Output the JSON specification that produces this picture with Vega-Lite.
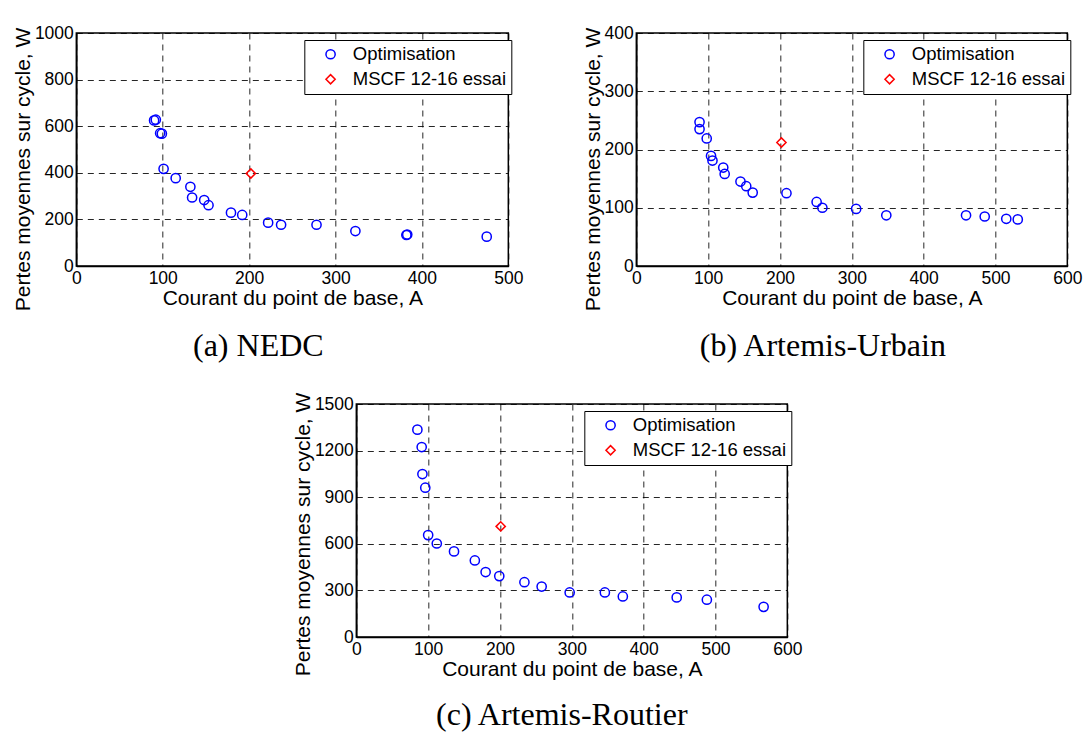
{
  "$schema": "https://vega.github.io/schema/vega-lite/v6.json",
  "padding": {"left": 11, "top": 23, "right": 2, "bottom": 0},
  "autosize": {"type": "pad"},
  "background": "white",
  "config": {
    "font": "Liberation Sans",
    "view": {"stroke": "#000", "strokeWidth": 1.5},
    "axis": {
      "labelFont": "Liberation Sans", "labelFontSize": 17.5, "labelColor": "#000",
      "titleFont": "Liberation Sans", "titleFontSize": 21, "titleFontWeight": "normal", "titleColor": "#000",
      "grid": true, "gridColor": "#000", "gridDash": [6, 5], "gridWidth": 1, "gridOpacity": 0.85,
      "domainColor": "#000", "domainWidth": 1.5, "ticks": false, "labelPadding": 3,
      "labelFlush": false, "labelOverlap": false, "titlePadding": 1, "format": "d"
    },
    "legend": {
      "strokeColor": "#000", "fillColor": "#fff", "padding": 5,
      "labelFont": "Liberation Sans", "labelFontSize": 18.5, "labelColor": "#000",
      "symbolSize": 85, "symbolStrokeWidth": 1.5, "rowPadding": 6, "labelOffset": 13, "symbolOffset": 12
    },
    "title": {"font": "Liberation Serif", "fontSize": 32, "fontWeight": "normal", "color": "#000", "orient": "bottom", "offset": 20}
  },
  "datasets": {
    "nedc": [
      {"courant": 90, "pertes": 625, "serie": "Optimisation"},
      {"courant": 92, "pertes": 628, "serie": "Optimisation"},
      {"courant": 97, "pertes": 570, "serie": "Optimisation"},
      {"courant": 99, "pertes": 568, "serie": "Optimisation"},
      {"courant": 101, "pertes": 417, "serie": "Optimisation"},
      {"courant": 115, "pertes": 377, "serie": "Optimisation"},
      {"courant": 132, "pertes": 340, "serie": "Optimisation"},
      {"courant": 134, "pertes": 294, "serie": "Optimisation"},
      {"courant": 148, "pertes": 283, "serie": "Optimisation"},
      {"courant": 153, "pertes": 261, "serie": "Optimisation"},
      {"courant": 179, "pertes": 229, "serie": "Optimisation"},
      {"courant": 192, "pertes": 219, "serie": "Optimisation"},
      {"courant": 222, "pertes": 186, "serie": "Optimisation"},
      {"courant": 237, "pertes": 177, "serie": "Optimisation"},
      {"courant": 278, "pertes": 177, "serie": "Optimisation"},
      {"courant": 323, "pertes": 150, "serie": "Optimisation"},
      {"courant": 382, "pertes": 133, "serie": "Optimisation"},
      {"courant": 383, "pertes": 135, "serie": "Optimisation"},
      {"courant": 475, "pertes": 126, "serie": "Optimisation"},
      {"courant": 202, "pertes": 397, "serie": "MSCF 12-16 essai"}
    ],
    "urbain": [
      {"courant": 88, "pertes": 247, "serie": "Optimisation"},
      {"courant": 88, "pertes": 235, "serie": "Optimisation"},
      {"courant": 98, "pertes": 219, "serie": "Optimisation"},
      {"courant": 104, "pertes": 189, "serie": "Optimisation"},
      {"courant": 106, "pertes": 181, "serie": "Optimisation"},
      {"courant": 121, "pertes": 169, "serie": "Optimisation"},
      {"courant": 123, "pertes": 158, "serie": "Optimisation"},
      {"courant": 145, "pertes": 145, "serie": "Optimisation"},
      {"courant": 153, "pertes": 137, "serie": "Optimisation"},
      {"courant": 162, "pertes": 126, "serie": "Optimisation"},
      {"courant": 209, "pertes": 125, "serie": "Optimisation"},
      {"courant": 251, "pertes": 110, "serie": "Optimisation"},
      {"courant": 259, "pertes": 100, "serie": "Optimisation"},
      {"courant": 306, "pertes": 98, "serie": "Optimisation"},
      {"courant": 348, "pertes": 87, "serie": "Optimisation"},
      {"courant": 459, "pertes": 87, "serie": "Optimisation"},
      {"courant": 485, "pertes": 85, "serie": "Optimisation"},
      {"courant": 515, "pertes": 81, "serie": "Optimisation"},
      {"courant": 531, "pertes": 80, "serie": "Optimisation"},
      {"courant": 202, "pertes": 212, "serie": "MSCF 12-16 essai"}
    ],
    "routier": [
      {"courant": 85, "pertes": 1335, "serie": "Optimisation"},
      {"courant": 91, "pertes": 1223, "serie": "Optimisation"},
      {"courant": 92, "pertes": 1049, "serie": "Optimisation"},
      {"courant": 96, "pertes": 961, "serie": "Optimisation"},
      {"courant": 100, "pertes": 656, "serie": "Optimisation"},
      {"courant": 112, "pertes": 602, "serie": "Optimisation"},
      {"courant": 136, "pertes": 551, "serie": "Optimisation"},
      {"courant": 165, "pertes": 493, "serie": "Optimisation"},
      {"courant": 180, "pertes": 418, "serie": "Optimisation"},
      {"courant": 199, "pertes": 392, "serie": "Optimisation"},
      {"courant": 234, "pertes": 353, "serie": "Optimisation"},
      {"courant": 258, "pertes": 325, "serie": "Optimisation"},
      {"courant": 297, "pertes": 287, "serie": "Optimisation"},
      {"courant": 346, "pertes": 287, "serie": "Optimisation"},
      {"courant": 371, "pertes": 261, "serie": "Optimisation"},
      {"courant": 446, "pertes": 255, "serie": "Optimisation"},
      {"courant": 488, "pertes": 240, "serie": "Optimisation"},
      {"courant": 567, "pertes": 194, "serie": "Optimisation"},
      {"courant": 201, "pertes": 712, "serie": "MSCF 12-16 essai"}
    ]
  },
  "vconcat": [
    {
      "hconcat": [
        {
          "width": 432, "height": 233,
          "data": {"name": "nedc"},
          "title": {"text": "(a) NEDC", "dx": -34},
          "mark": {"type": "point", "filled": false, "size": 85, "strokeWidth": 1.5, "opacity": 1},
          "encoding": {
            "x": {"field": "courant", "type": "quantitative", "scale": {"domain": [0, 500], "nice": false},
                  "axis": {"values": [0, 100, 200, 300, 400, 500], "title": "Courant du point de base, A"}},
            "y": {"field": "pertes", "type": "quantitative", "scale": {"domain": [0, 1000], "nice": false},
                  "axis": {"values": [0, 200, 400, 600, 800, 1000], "title": "Pertes moyennes sur cycle, W", "titleY": 136}},
            "color": {"field": "serie", "type": "nominal",
                      "scale": {"domain": ["Optimisation", "MSCF 12-16 essai"], "range": ["#0000ff", "#ff0000"]},
                      "legend": {"title": null, "orient": "none", "legendX": 228, "legendY": 7}},
            "shape": {"field": "serie", "type": "nominal",
                      "scale": {"domain": ["Optimisation", "MSCF 12-16 essai"], "range": ["circle", "diamond"]},
                      "legend": {"title": null, "orient": "none", "legendX": 228, "legendY": 7}}
          }
        },
        {
          "width": 431, "height": 233,
          "data": {"name": "urbain"},
          "title": {"text": "(b) Artemis-Urbain", "dx": -29},
          "mark": {"type": "point", "filled": false, "size": 85, "strokeWidth": 1.5, "opacity": 1},
          "encoding": {
            "x": {"field": "courant", "type": "quantitative", "scale": {"domain": [0, 600], "nice": false},
                  "axis": {"values": [0, 100, 200, 300, 400, 500, 600], "title": "Courant du point de base, A"}},
            "y": {"field": "pertes", "type": "quantitative", "scale": {"domain": [0, 400], "nice": false},
                  "axis": {"values": [0, 100, 200, 300, 400], "title": "Pertes moyennes sur cycle, W", "titleY": 136}},
            "color": {"field": "serie", "type": "nominal",
                      "scale": {"domain": ["Optimisation", "MSCF 12-16 essai"], "range": ["#0000ff", "#ff0000"]},
                      "legend": {"title": null, "orient": "none", "legendX": 227, "legendY": 7}},
            "shape": {"field": "serie", "type": "nominal",
                      "scale": {"domain": ["Optimisation", "MSCF 12-16 essai"], "range": ["circle", "diamond"]},
                      "legend": {"title": null, "orient": "none", "legendX": 227, "legendY": 7}}
          }
        }
      ],
      "spacing": 57,
      "resolve": {"scale": {"color": "independent", "shape": "independent"}}
    },
    {
      "width": 431, "height": 233,
      "data": {"name": "routier"},
      "title": {"text": "(c) Artemis-Routier", "dx": -10},
      "mark": {"type": "point", "filled": false, "size": 85, "strokeWidth": 1.5, "opacity": 1},
      "encoding": {
        "x": {"field": "courant", "type": "quantitative", "scale": {"domain": [0, 600], "nice": false},
              "axis": {"values": [0, 100, 200, 300, 400, 500, 600], "title": "Courant du point de base, A"}},
        "y": {"field": "pertes", "type": "quantitative", "scale": {"domain": [0, 1500], "nice": false},
              "axis": {"values": [0, 300, 600, 900, 1200, 1500], "title": "Pertes moyennes sur cycle, W", "titleY": 130}},
        "color": {"field": "serie", "type": "nominal",
                  "scale": {"domain": ["Optimisation", "MSCF 12-16 essai"], "range": ["#0000ff", "#ff0000"]},
                  "legend": {"title": null, "orient": "none", "legendX": 228, "legendY": 7}},
        "shape": {"field": "serie", "type": "nominal",
                  "scale": {"domain": ["Optimisation", "MSCF 12-16 essai"], "range": ["circle", "diamond"]},
                  "legend": {"title": null, "orient": "none", "legendX": 228, "legendY": 7}}
      }
    }
  ],
  "spacing": 28,
  "center": true,
  "resolve": {"scale": {"color": "independent", "shape": "independent"}}
}
